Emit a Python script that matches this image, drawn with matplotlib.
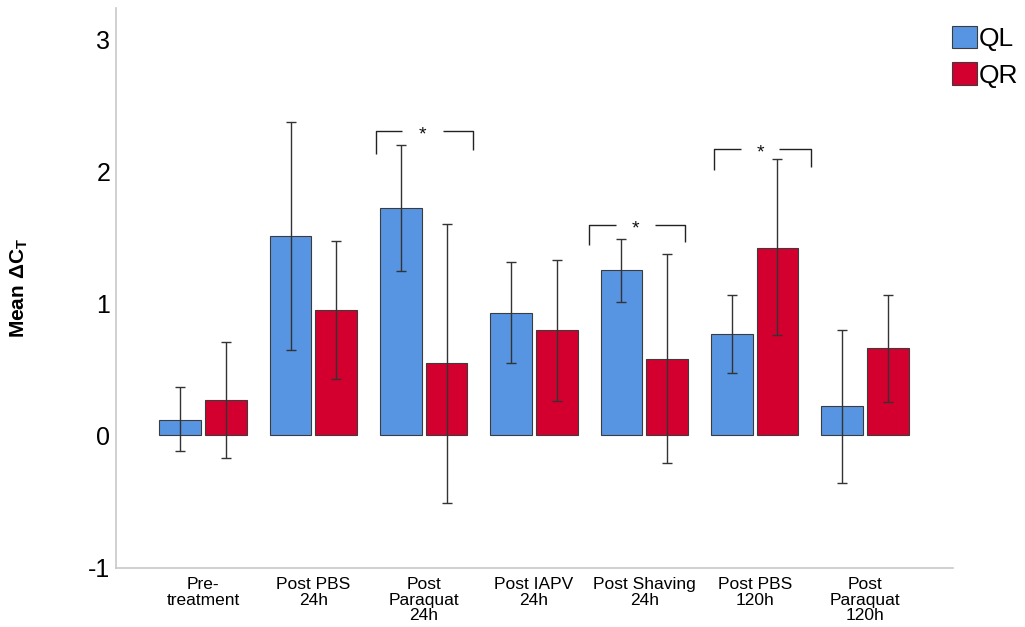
import matplotlib
matplotlib.use("Agg")
import matplotlib.pyplot as plt
import numpy as np

plt.rcParams['font.family'] = ['Liberation Sans', 'DejaVu Sans']
plt.rcParams['mathtext.fontset'] = 'custom'
plt.rcParams['mathtext.rm'] = 'Liberation Sans'
plt.rcParams['mathtext.bf'] = 'Liberation Sans:bold'

categories = ["Pre-\ntreatment", "Post PBS\n24h", "Post\nParaquat\n24h", "Post IAPV\n24h",
              "Post Shaving\n24h", "Post PBS\n120h", "Post\nParaquat\n120h"]
series_names = ["QL", "QR"]
ql_mean = [0.12, 1.51, 1.72, 0.93, 1.25, 0.77, 0.22]
ql_upper = [0.37, 2.37, 2.20, 1.31, 1.485, 1.06, 0.80]
ql_lower = [-0.12, 0.65, 1.245, 0.55, 1.01, 0.475, -0.36]
qr_mean = [0.27, 0.95, 0.55, 0.795, 0.58, 1.42, 0.66]
qr_upper = [0.71, 1.47, 1.60, 1.33, 1.37, 2.09, 1.06]
qr_lower = [-0.17, 0.43, -0.51, 0.26, -0.21, 0.76, 0.255]
yticks = [-1, 0, 1, 2, 3]

# significance brackets (annotation geometry, data coords)
brackets = [
    dict(xl=1.568, xr=2.447, top=2.305, yl=2.13, yr=2.16, sx=1.99, gap=0.185),
    dict(xl=3.499, xr=4.372, top=1.596, yl=1.444, yr=1.464, sx=3.92, gap=0.18),
    dict(xl=4.634, xr=5.514, top=2.165, yl=2.005, yr=2.03, sx=5.05, gap=0.175),
]

W, H = 1025, 627
fig = plt.figure(figsize=(W / 100, H / 100), dpi=100)
ax = fig.add_axes([116 / W, 1 - 567.5 / H, (953 - 116) / W, (567.5 - 8) / H])

x = np.arange(len(categories))
bw = 0.378
off = 0.207
blue = '#5795E3'
red = '#D3002F'
edge = '#3c3c3c'

series = [(ql_mean, ql_lower, ql_upper, blue, -off), (qr_mean, qr_lower, qr_upper, red, off)]
handles = []
for (m, lo, up, col, o), name in zip(series, series_names):
    m = np.array(m); lo = np.array(lo); up = np.array(up)
    b = ax.bar(x + o, m, width=bw, color=col, edgecolor=edge, linewidth=0.8, label=name, zorder=2)
    handles.append(b)
    ax.errorbar(x + o, m, yerr=[m - lo, up - m], fmt='none', ecolor='#333333',
                elinewidth=1.0, capsize=3.4, capthick=1.0, zorder=3)

for br in brackets:
    c = '#222222'
    ax.plot([br['xl'], br['xl'], br['sx'] - br['gap']], [br['yl'], br['top'], br['top']],
            color=c, lw=1.0, solid_capstyle='butt', zorder=4)
    ax.plot([br['sx'] + br['gap'], br['xr'], br['xr']], [br['top'], br['top'], br['yr']],
            color=c, lw=1.0, solid_capstyle='butt', zorder=4)
    ax.text(br['sx'], br['top'] - 0.03, '*', ha='center', va='center', fontsize=14, color='#111111')

ax.set_xlim(-0.789, 6.798)
ax.set_ylim(-1, 3.235)
ax.set_yticks(yticks)
ax.set_yticklabels([str(t) for t in yticks], fontsize=18)
ax.set_xticks(x)
ax.set_xticklabels(categories, fontsize=12.5, linespacing=1.05)
ax.tick_params(axis='both', length=0)
ax.tick_params(axis='y', pad=4)
ax.tick_params(axis='x', pad=7)
for s in ['top', 'right']:
    ax.spines[s].set_visible(False)
for s in ['left', 'bottom']:
    ax.spines[s].set_color('#c8c8c8')
    ax.spines[s].set_linewidth(1.2)

ax.set_ylabel(r'Mean ΔC$_\mathbf{T}$', fontsize=15, fontweight='bold')
ax.yaxis.set_label_coords((30 - 116) / (953 - 116), 0.5)

fig.legend(handles=handles, labels=series_names, loc='upper left',
           bbox_to_anchor=(952 / W, 1 - 26 / H), frameon=False, fontsize=19,
           handlelength=0.95, handleheight=0.92, handletextpad=0.05,
           labelspacing=0.42, borderpad=0, borderaxespad=0)

fig.savefig('out.png', dpi=100)
